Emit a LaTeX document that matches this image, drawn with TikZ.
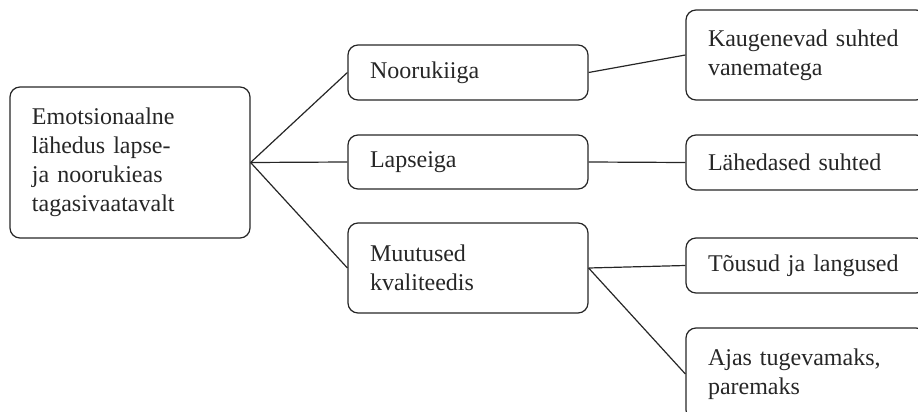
\documentclass[tikz,border=0pt]{standalone}
\usepackage{fontspec}
\setmainfont{Liberation Serif}
\tikzstyle{every node}=[font=\fontsize{12}{14.5}\selectfont]
\tikzstyle{box}=[draw, rounded corners=5pt, inner xsep=11pt, text width=98pt, align=left]

\begin{document}
\begin{tikzpicture}[x=0.5pt, y=-0.5pt, semithick, black!85]
    \clip (0,0) rectangle (918,412);
% Root
    \node[box, minimum height=75.5pt] (root) at (130,162.5) {Emotsionaalne\\lähedus lapse-\\ja noorukieas\\tagasivaatavalt};
% Periods
    \node[box, minimum height=27.5pt] (teen) at (468,72.5) {Noorukiiga};
    \node[box, minimum height=27pt] (child) at (468,162) {Lapseiga};
    \node[box, minimum height=45pt] (change) at (468,268) {Muutused\\kvaliteedis};
% Outcomes
    \node[box, minimum height=45pt] (far) at (806,55) {Kaugenevad suhted\\vanematega};
    \node[box, minimum height=27.5pt] (close) at (806,162.5) {Lähedased suhted};
    \node[box, minimum height=27.5pt] (updown) at (806,265.5) {Tõusud ja langused};
    \node[box, minimum height=46pt] (better) at (806,374) {Ajas tugevamaks,\\paremaks};
% Links
    \draw (root.east) -- (teen.west);
    \draw (root.east) -- (child.west);
    \draw (root.east) -- (change.west);
    \draw (teen.east) -- (far.west);
    \draw (child.east) -- (close.west);
    \draw (change.east) -- (updown.west);
    \draw (change.east) -- (better.west);
\end{tikzpicture}
\end{document}
